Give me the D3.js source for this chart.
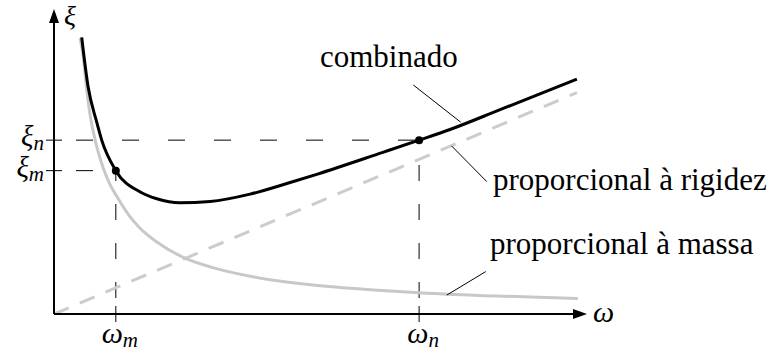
<!DOCTYPE html>
<html>
<head>
<meta charset="utf-8">
<script src="https://cdn.jsdelivr.net/npm/d3@7"></script>
<style>
  body { margin: 0; background: #fff; }
  svg { display: block; }
</style>
</head>
<body>
<div class="chart"></div>
<script>
// omega / xi values (arbitrary units, axes 0..10)
const combinedOmega = [0.52, 0.64, 0.80, 0.895, 1.16, 1.61, 1.93, 2.36, 2.93, 3.68, 4.43, 4.93, 6.17, 6.85, 7.43, 8.37, 9.81];
const combinedXi    = [9.07, 7.45, 6.30, 5.70, 4.70, 4.01, 3.78, 3.65, 3.69, 3.93, 4.31, 4.58, 5.30, 5.70, 6.05, 6.70, 7.70];

const massOmega = [0.49, 0.55, 0.62, 0.71, 0.76, 0.80, 0.92, 1.05, 1.18, 1.40, 1.61, 1.93, 2.46, 2.98, 3.73, 4.86, 6.00, 6.85, 8.30, 9.83];
const massXi    = [9.05, 8.40, 7.25, 6.20, 5.80, 5.50, 4.80, 4.25, 3.85, 3.25, 2.82, 2.36, 1.83, 1.52, 1.22, 0.95, 0.79, 0.70, 0.59, 0.51];

const stiffOmega = [0, 9.81];
const stiffXi    = [0, 7.26];

const markOmega = [1.16, 6.85];
const markXi    = [4.70, 5.70];
const omegaSubs = ["m", "n"];
const xiSubs    = ["m", "n"];

const labels = ["combinado", "proporcional à rigidez", "proporcional à massa"];

const FONT = "'Liberation Serif'";

const w = 769, h = 354;
const svg = d3.select(".chart").append("svg").attr("width", w).attr("height", h)
  .attr("font-family", FONT);

const x = d3.scaleLinear().domain([0, 10]).range([54, 587]);
const y = d3.scaleLinear().domain([0, 10]).range([314, 9]);

const toPts = (xs, ys) => xs.map((v, i) => [v, ys[i]]);
const line = d3.line().x(d => x(d[0])).y(d => y(d[1])).curve(d3.curveMonotoneX);

// guide lines (dashed) to the two marked points
markOmega.forEach((om, i) => {
  svg.append("line")
    .attr("x1", x(om)).attr("x2", x(om))
    .attr("y1", y(0) - 8).attr("y2", y(markXi[i]))
    .attr("stroke", "#000").attr("stroke-width", 1)
    .attr("stroke-dasharray", "0,8,16,15");
  svg.append("line")
    .attr("x1", x(0) + 8).attr("x2", x(om))
    .attr("y1", y(markXi[i])).attr("y2", y(markXi[i]))
    .attr("stroke", "#000").attr("stroke-width", 1)
    .attr("stroke-dasharray", "0,14,17,15");
  // small ticks on the axes
  svg.append("line")
    .attr("x1", x(om)).attr("x2", x(om))
    .attr("y1", y(0) - 8).attr("y2", y(0) + 8)
    .attr("stroke", "#000").attr("stroke-width", 1);
  svg.append("line")
    .attr("x1", x(0) - 8).attr("x2", x(0) + 8)
    .attr("y1", y(markXi[i])).attr("y2", y(markXi[i]))
    .attr("stroke", "#000").attr("stroke-width", 1);
});

// stiffness proportional (grey dashed)
svg.append("path")
  .datum(toPts(stiffOmega, stiffXi))
  .attr("d", d3.line().x(d => x(d[0])).y(d => y(d[1])))
  .attr("fill", "none").attr("stroke", "#cccccc").attr("stroke-width", 3)
  .attr("stroke-dasharray", "16,12");

// mass proportional (grey)
svg.append("path")
  .datum(toPts(massOmega, massXi))
  .attr("d", line)
  .attr("fill", "none").attr("stroke", "#c8c8c8").attr("stroke-width", 3);

// combined (black)
svg.append("path")
  .datum(toPts(combinedOmega, combinedXi))
  .attr("d", line)
  .attr("fill", "none").attr("stroke", "#000").attr("stroke-width", 3);

svg.selectAll("circle.mark")
  .data(markOmega)
  .enter().append("circle")
  .attr("class", "mark")
  .attr("cx", d => x(d))
  .attr("cy", (d, i) => y(markXi[i]))
  .attr("r", 4)
  .attr("fill", "#000");

// axes with arrows
svg.append("line")
  .attr("x1", x(0)).attr("y1", y(0)).attr("x2", x(10) - 10).attr("y2", y(0))
  .attr("stroke", "#000").attr("stroke-width", 2);
svg.append("line")
  .attr("x1", x(0)).attr("y1", y(0)).attr("x2", x(0)).attr("y2", y(10) + 10)
  .attr("stroke", "#000").attr("stroke-width", 2);
svg.append("path")
  .attr("d", `M${x(10)},${y(0)} L${x(10) - 14},${y(0) - 5} L${x(10) - 14},${y(0) + 5} Z`)
  .attr("fill", "#000");
svg.append("path")
  .attr("d", `M${x(0)},${y(10)} L${x(0) - 5},${y(10) + 14} L${x(0) + 5},${y(10) + 14} Z`)
  .attr("fill", "#000");

// axis labels
svg.append("text")
  .attr("font-style", "italic")
  .attr("x", x(0) + 10).attr("y", y(10) + 16)
  .attr("font-size", 28).text("ξ");
svg.append("text")
  .attr("font-style", "italic")
  .attr("x", x(10) + 6).attr("y", y(0) + 8)
  .attr("font-size", 30).text("ω");

markOmega.forEach((om, i) => {
  const t = svg.append("text")
    .attr("font-style", "italic")
    .attr("x", x(om) + 4).attr("y", y(0) + 29)
    .attr("text-anchor", "middle")
    .attr("font-size", 30);
  t.append("tspan").text("ω");
  t.append("tspan").attr("font-size", 21).attr("dy", 4).text(omegaSubs[i]);
});

markXi.forEach((xi, i) => {
  const t = svg.append("text")
    .attr("font-style", "italic")
    .attr("x", x(0) - 10).attr("y", y(xi) + 6)
    .attr("text-anchor", "end")
    .attr("font-size", 29);
  t.append("tspan").text("ξ");
  t.append("tspan").attr("font-size", 21).attr("dy", 4).text(xiSubs[i]);
});

// annotations
const leaders = [
  [[6.74, 7.51], [7.63, 6.29]],
  [[7.46, 5.51], [8.12, 4.34]],
  [[7.37, 0.62], [8.10, 1.39]]
];
leaders.forEach(l => {
  svg.append("line")
    .attr("x1", x(l[0][0])).attr("y1", y(l[0][1]))
    .attr("x2", x(l[1][0])).attr("y2", y(l[1][1]))
    .attr("stroke", "#000").attr("stroke-width", 1);
});

const labelPos = [[320, 67], [493, 190], [490, 254]];
svg.selectAll("text.lbl")
  .data(labels)
  .enter().append("text")
  .attr("class", "lbl")
  .attr("x", (d, i) => labelPos[i][0])
  .attr("y", (d, i) => labelPos[i][1])
  .attr("font-size", 31)
  .text(d => d);
</script>
</body>
</html>
